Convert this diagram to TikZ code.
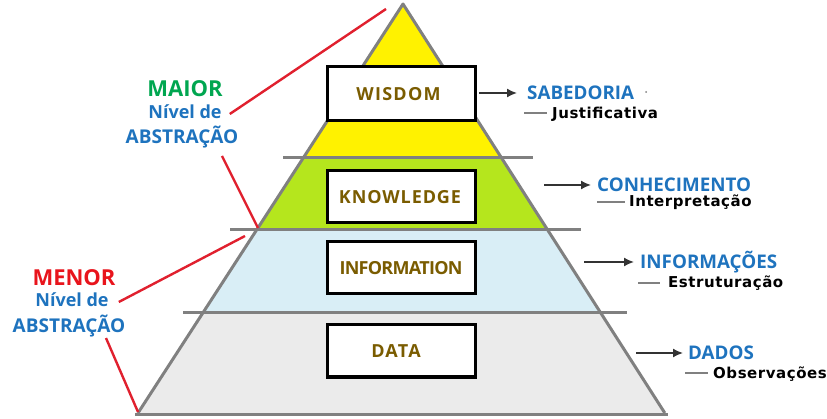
\documentclass[tikz,border=0pt]{standalone}
\usepackage{fontspec}
\usetikzlibrary{arrows.meta}
\newfontfamily\labfont{Open Sans}
\newfontfamily\boxfont{Open Sans}
\newfontfamily\subfont{DejaVu Sans}[LetterSpace=3.6]
\definecolor{edgegrey}{HTML}{808080}
\definecolor{tierA}{HTML}{FFF200}
\definecolor{tierB}{HTML}{B5E61D}
\definecolor{tierC}{HTML}{D9EEF6}
\definecolor{tierD}{HTML}{EBEBEB}
\definecolor{olive}{HTML}{7A5C00}
\definecolor{lblue}{HTML}{1E73BE}
\definecolor{lgreen}{HTML}{00A650}
\definecolor{lred}{HTML}{E8141C}
\definecolor{redline}{HTML}{E0202E}
% letter-spaced word followed by a fixed right-hand pad
\newcommand\tracked[3]{{\addfontfeature{LetterSpace=#1}#2}\rule{#3}{0pt}}
\tikzset{
  tierbox/.style={draw=black, line width=3pt, fill=white, minimum width=148pt,
    minimum height=52pt, inner sep=0pt, font=\boxfont\bfseries\fontsize{18}{21}\selectfont,
    text=olive},
  sidelabel/.style={anchor=west, inner sep=0pt, text=lblue,
    font=\labfont\bfseries\fontsize{18.8}{22}\selectfont},
  sublabel/.style={anchor=west, inner sep=0pt, text=black,
    font=\subfont\bfseries\fontsize{15}{18}\selectfont},
  pointer/.style={draw=black!80, line width=1.6pt, -{Latex[length=10pt,width=9pt]}},
  leadline/.style={draw=edgegrey, line width=1.6pt},
  sep/.style={draw=edgegrey, line width=3pt},
  redlink/.style={draw=redline, line width=2.4pt},
  absword/.style={inner sep=0pt, text=lblue, font=\labfont\bfseries\fontsize{18}{22}\selectfont},
}
\begin{document}
\begin{tikzpicture}[x=1pt, y=-1pt]
\useasboundingbox (0,0) rectangle (827,419);
% tiers of the pyramid
\fill[tierD] (202.8,313) -- (600.8,313) -- (664.8,413) -- (138,413) -- cycle;
\fill[tierC] (256.6,230) -- (547.6,230) -- (600.8,313) -- (202.8,313) -- cycle;
\fill[tierB] (303.2,158) -- (501.6,158) -- (547.6,230) -- (256.6,230) -- cycle;
\fill[tierA] (403,4) -- (501.6,158) -- (303.2,158) -- cycle;
% sides and tier separators
\draw[sep, line join=round] (138,413) -- (403,4) -- (664.8,413);
\draw[sep] (283,158) -- (533,158);
\draw[sep] (230,230) -- (581,230);
\draw[sep] (183,313) -- (627,313);
\draw[sep] (135,414) -- (668,414);
% tier boxes
\node[tierbox, minimum height=54pt] (wis) at (401,94) {\tracked{7}{WISDOM}{5pt}};
\node[tierbox] (kno) at (401,197) {\tracked{5}{KNOWLEDGE}{2pt}};
\node[tierbox] (inf) at (401,268) {\tracked{-4}{INFORMATION}{0pt}};
\node[tierbox] (dat) at (401,351) {\tracked{7}{DATA}{10pt}};
% right-hand terms
\node[sidelabel] (sab) at (527,93) {SABEDORIA};
\node[sublabel] (jus) at (552,114) {Justificativa};
\node[sidelabel] (con) at (597,185) {CONHECIMENTO};
\node[sublabel] (int) at (629,202) {Interpretação};
\node[sidelabel] (ifo) at (640,262) {INFORMAÇÕES};
\node[sublabel] (est) at (668,283) {Estruturação};
\node[sidelabel] (dad) at (688,353) {DADOS};
\node[sublabel] (obs) at (713,374) {Observações};
\fill[edgegrey] (646,92) circle (1pt);
\coordinate (sabA) at (479,93);
\coordinate (conA) at (544,185);
\coordinate (ifoA) at (584,262);
\coordinate (dadA) at (636,353);
\draw[pointer] (sabA) -- ([xshift=-10pt]sab.west);
\draw[pointer] (conA) -- ([xshift=-6pt]con.west);
\draw[pointer] (ifoA) -- ([xshift=-6pt]ifo.west);
\draw[pointer] (dadA) -- ([xshift=-5pt]dad.west);
\coordinate (jusA) at (524,113);
\coordinate (intA) at (597,202);
\coordinate (estA) at (638,283);
\coordinate (obsA) at (685,373);
\draw[leadline] (jusA) -- ([xshift=-5pt]jus.west |- jusA);
\draw[leadline] (intA) -- ([xshift=-4pt]int.west |- intA);
\draw[leadline] (estA) -- ([xshift=-8pt]est.west |- estA);
\draw[leadline] (obsA) -- ([xshift=-5pt]obs.west |- obsA);
% left-hand abstraction labels
\node[inner sep=0pt, text=lgreen, font=\labfont\bfseries\fontsize{22}{26}\selectfont] (mai) at (185,89) {MAIOR};
\node[absword] (maiN) at (185,112) {Nível de};
\node[absword, font=\labfont\bfseries\fontsize{19}{22}\selectfont] (maiA) at (182,137) {ABSTRAÇÃO};
\node[inner sep=0pt, text=lred, font=\labfont\bfseries\fontsize{22}{26}\selectfont] (men) at (74,278) {MENOR};
\node[absword] (menN) at (72,300) {Nível de};
\node[absword, font=\labfont\bfseries\fontsize{19}{22}\selectfont] (menA) at (69,326) {ABSTRAÇÃO};
\coordinate (topTip) at (386,9);
\coordinate (midTip) at (258,228);
\coordinate (lowTip) at (245,236);
\coordinate (baseTip) at (138,412);
\draw[redlink] ([xshift=8pt,yshift=-2pt]maiN.east) -- (topTip);
\draw[redlink] (222,156) -- (midTip);
\draw[redlink] ([xshift=10pt,yshift=-2pt]menN.east) -- (lowTip);
\draw[redlink] (106,338) -- (baseTip);
\end{tikzpicture}
\end{document}
